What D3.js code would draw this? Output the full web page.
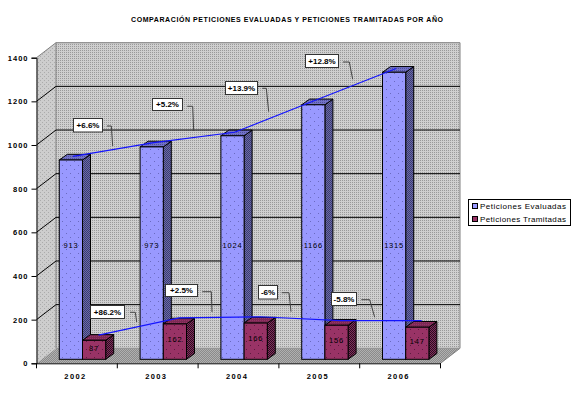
<!DOCTYPE html>
<html>
<head>
<meta charset="utf-8">
<script src="https://cdn.jsdelivr.net/npm/d3@7"></script>
<style>
  html, body { margin: 0; padding: 0; background: #fff; }
  svg { display: block; }
  text { font-family: "Liberation Sans", Arial, sans-serif; fill: #000; }
</style>
</head>
<body>
<div id="chart"></div>
<script>
const years = ["2002", "2003", "2004", "2005", "2006"];
const evaluadas = [913, 973, 1024, 1166, 1315];
const tramitadas = [87, 162, 166, 156, 147];
// the two trend lines sit a little off the bar tops in the original, read separately
const lineEvaluadas = [930, 993, 1040, 1187, 1332];
const lineTramitadas = [111, 190, 195, 177, 177];
const yTicks = [0, 200, 400, 600, 800, 1000, 1200, 1400];
const seriesNames = ["Peticiones Evaluadas", "Peticiones Tramitadas"];
const callouts = ["+6.6%", "+5.2%", "+13.9%", "+12.8%", "+86.2%", "+2.5%", "-6%", "-5.8%"];
const title = "COMPARACIÓN PETICIONES EVALUADAS Y PETICIONES TRAMITADAS POR AÑO";

const width = 576;
const height = 393;
const depthX = 19.5;   // wall offset
const depthY = 15;
const barDX = 8;       // bar depth
const barDY = 5.7;
const left = 36.5;
const right = 440.5;

const svg = d3.select("#chart").append("svg")
  .attr("width", width)
  .attr("height", height);

const defs = svg.append("defs");

// Small pixel patterns, the chart uses dithered fills everywhere.
function pattern(id, size, bg, dots, dotColor) {
  const p = defs.append("pattern")
    .attr("id", id)
    .attr("patternUnits", "userSpaceOnUse")
    .attr("width", size)
    .attr("height", size);
  p.append("rect").attr("width", size).attr("height", size)
    .attr("fill", bg).attr("shape-rendering", "crispEdges");
  dots.forEach(d => {
    p.append("rect").attr("x", d[0]).attr("y", d[1])
      .attr("width", 1).attr("height", 1)
      .attr("fill", dotColor).attr("shape-rendering", "crispEdges");
  });
}
pattern("wall", 2, "#cfcfcf", [[0, 0]], "#9a9a9a");
pattern("side", 4, "#cdcdcd", [[0, 0], [2, 2]], "#ababab");
pattern("floor", 2, "#8a8a8a", [[0, 0], [1, 1]], "#b0b0b0");
pattern("blue", 8, "#9999ff", [[2, 1], [6, 5]], "#6a6ac0");
pattern("blueSide", 2, "#6a6aa8", [[0, 0], [1, 1]], "#3c3c70");
pattern("blueTop", 2, "#7272c8", [[0, 0]], "#50509a");
pattern("maroon", 8, "#993366", [[2, 1], [6, 5]], "#5e1c40");
pattern("maroonSide", 2, "#80305c", [[0, 0], [1, 1]], "#2c0c20");
pattern("maroonTop", 2, "#7c2a55", [[0, 0]], "#993366");

const y = d3.scaleLinear().domain([0, 1400]).range([363.3, 57.7]);
// bars stand on a baseline inside the floor
const barBase = 359.3;
const barY = v => barBase - (y(0) - y(v));

const x = d3.scaleBand().domain(years).range([left, right]);
const blueX = d => x(d) + 22.8;
const barW = 23.2;

const lineGen = d3.line().curve(d3.curveLinear);

// Walls and floor.
const gWalls = svg.append("g");
gWalls.append("rect")
  .attr("x", left + depthX).attr("y", y(1400) - depthY)
  .attr("width", right - left).attr("height", y(0) - y(1400))
  .attr("fill", "url(#wall)");
gWalls.append("path")
  .attr("d", lineGen([[left, y(1400)], [left + depthX, y(1400) - depthY], [left + depthX, y(0) - depthY], [left, y(0)]]) + "Z")
  .attr("fill", "url(#side)");
gWalls.append("path")
  .attr("d", lineGen([[left + depthX, y(0) - depthY], [right + depthX, y(0) - depthY], [right, y(0)], [left, y(0)]]) + "Z")
  .attr("fill", "url(#floor)");

// Gray outline of the back wall.
gWalls.append("path")
  .attr("d", lineGen([[left, y(1400)], [left + depthX, y(1400) - depthY], [right + depthX, y(1400) - depthY], [right + depthX, y(0) - depthY], [right, y(0)]]))
  .attr("fill", "none").attr("stroke", "#808080").attr("stroke-width", 1);
gWalls.append("line")
  .attr("x1", left + depthX).attr("x2", left + depthX)
  .attr("y1", y(1400) - depthY).attr("y2", y(0) - depthY)
  .attr("stroke", "#808080");
gWalls.append("line")
  .attr("x1", left + depthX).attr("x2", right + depthX)
  .attr("y1", y(0) - depthY).attr("y2", y(0) - depthY)
  .attr("stroke", "#909090");

// Gridlines.
const gridTicks = yTicks.filter(t => t > 0 && t < 1400);
svg.append("g").selectAll("path")
  .data(gridTicks)
  .join("path")
  .attr("d", t => lineGen([[left, y(t)], [left + depthX, y(t) - depthY], [right + depthX, y(t) - depthY]]))
  .attr("fill", "none")
  .attr("stroke", "#000")
  .attr("stroke-width", 1);

// Bars.
function drawBars(values, xAt, front, side, top) {
  const g = svg.append("g");
  const data = years.map((yr, i) => ({ yr, v: values[i] }));
  g.selectAll("path.side").data(data).join("path").attr("class", "side")
    .attr("d", d => {
      const x1 = xAt(d.yr) + barW;
      return lineGen([[x1, barY(d.v)], [x1 + barDX, barY(d.v) - barDY], [x1 + barDX, barBase - barDY], [x1, barBase]]) + "Z";
    })
    .attr("fill", side).attr("stroke", "#000");
  g.selectAll("path.top").data(data).join("path").attr("class", "top")
    .attr("d", d => {
      const x0 = xAt(d.yr);
      return lineGen([[x0, barY(d.v)], [x0 + barDX, barY(d.v) - barDY], [x0 + barW + barDX, barY(d.v) - barDY], [x0 + barW, barY(d.v)]]) + "Z";
    })
    .attr("fill", top).attr("stroke", "#000");
  g.selectAll("rect").data(data).join("rect")
    .attr("x", d => xAt(d.yr))
    .attr("y", d => barY(d.v))
    .attr("width", barW)
    .attr("height", d => barBase - barY(d.v))
    .attr("fill", front).attr("stroke", "#000");
}
drawBars(evaluadas, blueX, "url(#blue)", "url(#blueSide)", "url(#blueTop)");
drawBars(tramitadas, d => blueX(d) + barW, "url(#maroon)", "url(#maroonSide)", "url(#maroonTop)");

// Value labels.
svg.append("g").selectAll("text")
  .data(evaluadas)
  .join("text")
  .attr("x", (d, i) => blueX(years[i]) + barW / 2)
  .attr("y", barY(520))
  .attr("text-anchor", "middle").attr("dominant-baseline", "middle")
  .attr("font-size", 7.5).attr("letter-spacing", 0.8)
  .text(d => d);
svg.append("g").selectAll("text")
  .data(tramitadas)
  .join("text")
  .attr("x", (d, i) => blueX(years[i]) + barW * 1.5)
  .attr("y", d => barY(d * 0.55))
  .attr("text-anchor", "middle").attr("dominant-baseline", "middle")
  .attr("font-size", 7.5).attr("letter-spacing", 0.8)
  .text(d => d);

// Trend lines on top of the bars.
const trend = d3.line()
  .x(d => d[0])
  .y(d => barY(d[1]));
svg.append("path")
  .attr("d", trend(years.map((yr, i) => [x(yr) + 36.5, lineEvaluadas[i]])))
  .attr("fill", "none").attr("stroke", "#1414ff").attr("stroke-width", 1.2);
svg.append("path")
  .attr("d", trend(years.map((yr, i) => [x(yr) + 62, lineTramitadas[i]])))
  .attr("fill", "none").attr("stroke", "#1414ff").attr("stroke-width", 1.2);

// Callout boxes and their leaders, placed by hand like in the original.
const calloutBoxes = [
  { box: [73.5, 118.5, 29, 13.5], leader: [[107, 126], [111.3, 126], [112.7, 146]] },
  { box: [152.5, 98.5, 30, 12], leader: [[187.3, 106.3], [192.7, 106.3], [193.7, 131]] },
  { box: [225.5, 81.5, 32, 13], leader: [[262.3, 88.3], [266.3, 88.3], [268.7, 111.7]] },
  { box: [305.5, 54.5, 33, 13], leader: [[343, 62], [349.3, 62], [352.7, 79.3]] },
  { box: [90.5, 305.5, 34, 13], leader: [[130, 312.3], [135.3, 312.3], [136.7, 322]] },
  { box: [165.5, 284.5, 32, 12], leader: [[202.3, 291.7], [211.3, 291.7], [212, 312]] },
  { box: [258.5, 285.5, 19, 13.5], leader: [[281.7, 292.7], [289, 292.7], [291, 311.7]] },
  { box: [331.5, 292.5, 25, 13], leader: [[361.3, 299.7], [369.7, 299.7], [374.7, 317.3]] }
];
const gCall = svg.append("g");
callouts.forEach((label, i) => {
  const c = calloutBoxes[i];
  gCall.append("path")
    .attr("d", lineGen(c.leader))
    .attr("fill", "none").attr("stroke", "#444").attr("stroke-width", 1);
  gCall.append("rect")
    .attr("x", c.box[0]).attr("y", c.box[1])
    .attr("width", c.box[2]).attr("height", c.box[3])
    .attr("fill", "#fff").attr("stroke", "#333").attr("stroke-width", 1);
  gCall.append("text")
    .attr("x", c.box[0] + c.box[2] / 2)
    .attr("y", c.box[1] + c.box[3] / 2 + 0.5)
    .attr("text-anchor", "middle").attr("dominant-baseline", "middle")
    .attr("font-size", 8).attr("font-weight", "bold")
    .text(label);
});

// Axes.
const yAxis = d3.axisLeft(y).tickValues(yTicks).tickSize(5).tickPadding(3).tickFormat(d3.format("d"));
const gY = svg.append("g").attr("transform", `translate(${left},0)`).call(yAxis);
gY.selectAll("path, line").attr("stroke", "#000");
gY.selectAll("text")
  .attr("font-size", 7.5).attr("font-weight", "bold").attr("letter-spacing", 1)
  .style("font-family", '"Liberation Sans", Arial, sans-serif');

const xBase = d3.axisBottom(x).tickSize(0).tickFormat("");
const gX = svg.append("g").attr("transform", `translate(0,${y(0)})`).call(xBase);
gX.select("path").attr("stroke", "#000");
svg.append("g").selectAll("line")
  .data(years.map(yr => x(yr)).concat([right]))
  .join("line")
  .attr("x1", d => d).attr("x2", d => d)
  .attr("y1", y(0)).attr("y2", y(0) + 5)
  .attr("stroke", "#000");
svg.append("g").selectAll("text")
  .data(years)
  .join("text")
  .attr("x", d => x(d) + 39)
  .attr("y", 377)
  .attr("text-anchor", "middle").attr("dominant-baseline", "middle")
  .attr("font-size", 7.5).attr("font-weight", "bold").attr("letter-spacing", 1.4)
  .text(d => d);

// Title.
svg.append("text")
  .attr("x", 131).attr("y", 20)
  .attr("dominant-baseline", "middle")
  .attr("font-size", 7).attr("font-weight", "bold")
  .attr("textLength", 312).attr("lengthAdjust", "spacing")
  .text(title);

// Legend.
const legend = svg.append("g");
legend.append("rect")
  .attr("x", 468.5).attr("y", 199.5).attr("width", 102).attr("height", 26)
  .attr("fill", "#fff").attr("stroke", "#000");
const legendFills = ["#9999ff", "#993366"];
seriesNames.forEach((name, i) => {
  const ly = 203.5 + i * 13;
  legend.append("rect")
    .attr("x", 472.5).attr("y", ly).attr("width", 5).attr("height", 5)
    .attr("fill", legendFills[i]).attr("stroke", "#000");
  legend.append("text")
    .attr("x", 480).attr("y", ly + 3.5)
    .attr("dominant-baseline", "middle")
    .attr("font-size", 8)
    .attr("textLength", 86).attr("lengthAdjust", "spacing")
    .text(name);
});
</script>
</body>
</html>
